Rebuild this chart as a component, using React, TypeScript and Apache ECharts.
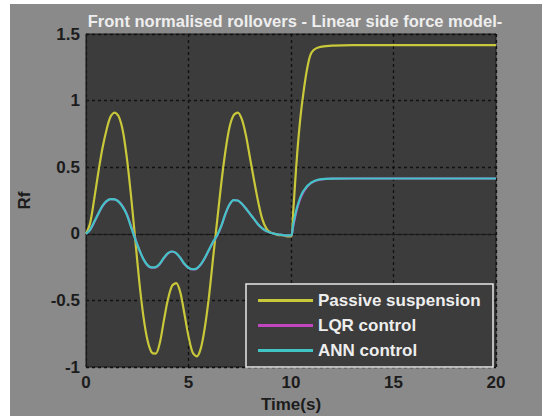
import React, { useEffect, useRef } from "react";
import * as echarts from "echarts";

const timeS = [0, 0.2, 0.4, 0.6, 0.8, 1.0, 1.2, 1.4, 1.6, 1.8, 2.0, 2.2, 2.4, 2.6, 2.8, 3.0, 3.2, 3.4, 3.6, 3.8, 4.0, 4.2, 4.4, 4.6, 4.8, 5.0, 5.2, 5.4, 5.6, 5.8, 6.0, 6.2, 6.4, 6.6, 6.8, 7.0, 7.2, 7.4, 7.6, 7.8, 8.0, 8.2, 8.4, 8.6, 8.8, 9.0, 9.2, 9.4, 9.6, 9.8, 10.0, 10.1, 10.2, 10.3, 10.4, 10.5, 10.6, 10.7, 10.8, 10.9, 11.0, 11.2, 11.5, 12, 13, 15, 20];

const passive = [0, 0.08, 0.26, 0.46, 0.64, 0.78, 0.88, 0.91, 0.88, 0.77, 0.56, 0.28, -0.04, -0.36, -0.62, -0.8, -0.89, -0.9, -0.82, -0.65, -0.49, -0.39, -0.37, -0.44, -0.6, -0.77, -0.89, -0.92, -0.86, -0.7, -0.47, -0.18, 0.1, 0.38, 0.62, 0.8, 0.89, 0.91, 0.86, 0.74, 0.57, 0.4, 0.24, 0.11, 0.04, 0.01, 0.0, -0.01, -0.01, -0.02, -0.02, 0.15, 0.38, 0.6, 0.78, 0.93, 1.05, 1.16, 1.25, 1.32, 1.36, 1.39, 1.405, 1.412, 1.416, 1.416, 1.416];

const lqr = [0, 0.03, 0.085, 0.15, 0.205, 0.243, 0.26, 0.258, 0.242, 0.205, 0.145, 0.055, -0.035, -0.12, -0.19, -0.238, -0.256, -0.253, -0.228, -0.183, -0.147, -0.134, -0.146, -0.182, -0.228, -0.258, -0.268, -0.262, -0.232, -0.182, -0.122, -0.062, -0.012, 0.058, 0.148, 0.218, 0.252, 0.25, 0.226, 0.19, 0.15, 0.11, 0.07, 0.04, 0.02, 0.008, 0.0, -0.005, -0.01, -0.012, -0.012, 0.05, 0.125, 0.19, 0.24, 0.28, 0.31, 0.335, 0.355, 0.37, 0.382, 0.398, 0.409, 0.414, 0.415, 0.415, 0.415];

const ann = [0, 0.03, 0.09, 0.15, 0.21, 0.245, 0.26, 0.258, 0.24, 0.2, 0.14, 0.05, -0.04, -0.12, -0.19, -0.235, -0.252, -0.25, -0.225, -0.18, -0.145, -0.133, -0.145, -0.18, -0.225, -0.255, -0.266, -0.26, -0.23, -0.18, -0.12, -0.06, -0.01, 0.06, 0.15, 0.22, 0.253, 0.25, 0.225, 0.19, 0.15, 0.11, 0.07, 0.04, 0.02, 0.008, 0.0, -0.005, -0.01, -0.012, -0.012, 0.06, 0.14, 0.2, 0.25, 0.29, 0.32, 0.34, 0.36, 0.373, 0.385, 0.4, 0.41, 0.414, 0.415, 0.415, 0.415];

const seriesNames = ["Passive suspension", "LQR control", "ANN control"];
const xTicks = { min: 0, max: 20, interval: 5 };
const yTicks = { min: -1, max: 1.5, interval: 0.5 };

const FONT = "'Liberation Sans', Arial, sans-serif";
const DARK = "#1c1c1c";

export default function App() {
  const ref = useRef<HTMLDivElement>(null);
  useEffect(() => {
    if (!ref.current) return;
    const chart = echarts.init(ref.current, null, { renderer: "svg" });
    const pair = (vals: number[]) => timeS.map((t, i) => [t, vals[i]]);
    chart.setOption({
      animation: false,
      backgroundColor: "#8a8a8a",
      title: {
        text: "Front normalised rollovers - Linear side force model-",
        left: 280,
        top: 3,
        textAlign: "center",
        textStyle: { color: "#eeeeee", fontSize: 16.5, fontWeight: "bold", fontFamily: FONT },
      },
      grid: {
        left: 76,
        top: 30,
        right: 46,
        bottom: 49,
        containLabel: false,
        outerBoundsMode: "none",
        show: true,
        backgroundColor: "#3c3c3c",
        borderColor: "#1a1a1a",
        borderWidth: 1,
      },
      xAxis: {
        type: "value",
        ...xTicks,
        name: "Time(s)",
        nameLocation: "middle",
        nameGap: 28,
        nameTextStyle: { color: DARK, fontSize: 17, fontWeight: "bold", fontFamily: FONT },
        axisLine: { show: true, lineStyle: { color: "#1a1a1a" } },
        axisTick: { show: false },
        axisLabel: { color: DARK, fontSize: 17, fontWeight: "bold", fontFamily: FONT, margin: 7 },
        splitLine: { show: true, lineStyle: { color: "#111", type: [3, 3], width: 1.3 } },
      },
      yAxis: {
        type: "value",
        ...yTicks,
        name: "Rf",
        nameLocation: "middle",
        nameGap: 53,
        nameTextStyle: { color: DARK, fontSize: 17, fontWeight: "bold", fontFamily: FONT },
        axisLine: { show: true, lineStyle: { color: "#1a1a1a" } },
        axisTick: { show: false },
        axisLabel: { color: DARK, fontSize: 17, fontWeight: "bold", fontFamily: FONT, margin: 6 },
        splitLine: { show: true, lineStyle: { color: "#111", type: [3, 3], width: 1.3 } },
      },
      legend: {
        orient: "vertical",
        left: 248,
        top: 287,
        padding: 0,
        icon: "rect",
        itemWidth: 55,
        itemHeight: 3,
        itemGap: 6,
        z: 5,
        data: seriesNames,
        textStyle: { color: "#eeeeee", fontSize: 17, fontWeight: "bold", lineHeight: 19, fontFamily: FONT },
      },
      graphic: [
        {
          type: "rect",
          z: 3,
          shape: { x: 236, y: 280, width: 247, height: 83 },
          style: { fill: "#3c3c3c", stroke: "#e6e6e6", lineWidth: 1.5 },
        },
      ],
      series: [
        {
          name: seriesNames[0],
          type: "line",
          data: pair(passive),
          smooth: 0.3,
          symbol: "none",
          lineStyle: { color: "#c8c83a", width: 2.2 },
          itemStyle: { color: "#c8c83a" },
        },
        {
          name: seriesNames[1],
          type: "line",
          data: pair(lqr),
          smooth: 0.3,
          symbol: "none",
          lineStyle: { color: "#c046c0", width: 2.2 },
          itemStyle: { color: "#c046c0" },
        },
        {
          name: seriesNames[2],
          type: "line",
          data: pair(ann),
          smooth: 0.3,
          symbol: "none",
          lineStyle: { color: "#40c4c4", width: 2.2 },
          itemStyle: { color: "#40c4c4" },
        },
      ],
    });
    return () => chart.dispose();
  }, []);
  return (
    <div style={{ position: "fixed", left: 0, top: 0, width: 542, height: 416, background: "#ffffff" }}>
      <div ref={ref} style={{ position: "absolute", left: 10, top: 4, width: 532, height: 412 }} />
    </div>
  );
}
